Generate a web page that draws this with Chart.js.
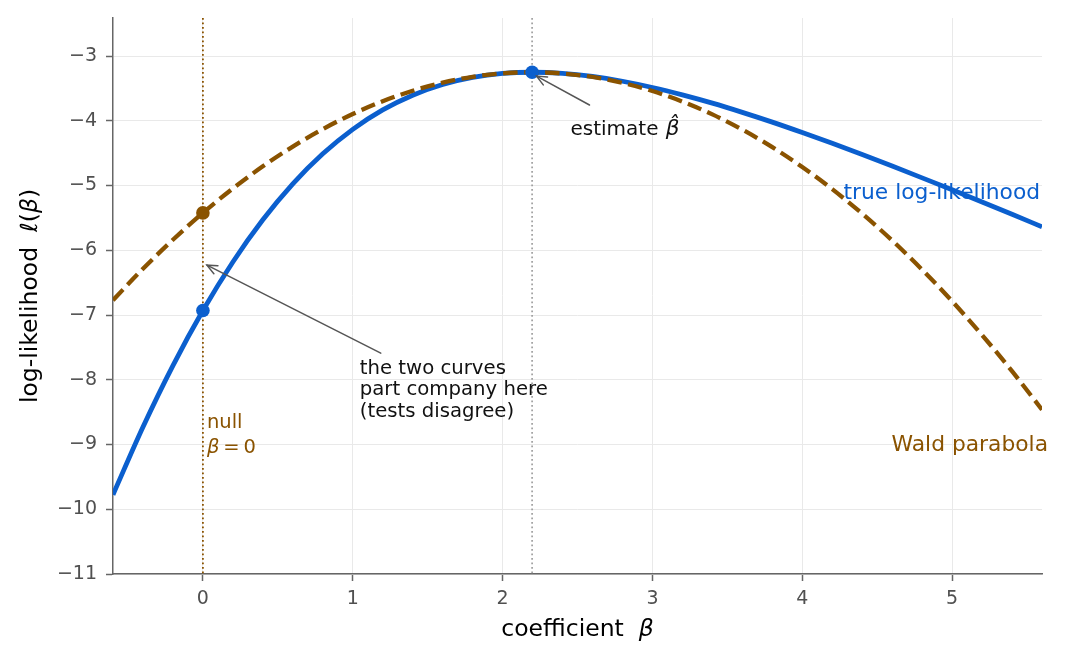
<!DOCTYPE html>
<html>
<head>
<meta charset="utf-8">
<script src="https://cdn.jsdelivr.net/npm/chart.js@4.4.1/dist/chart.umd.min.js"></script>
<style>
  html, body { margin: 0; padding: 0; background: #ffffff; }
  #wrap { width: 1068px; height: 663px; }
</style>
</head>
<body>
<div id="wrap"><canvas id="c" width="1068" height="663"></canvas></div>
<script>
// ---- data ----
const betaGrid = [-0.6,-0.4,-0.2,0,0.2,0.4,0.6,0.8,1.0,1.2,1.4,1.6,1.8,2.0,2.2,2.4,2.6,2.8,3.0,3.2,3.4,3.6,3.8,4.0,4.2,4.4,4.6,4.8,5.0,5.2,5.4,5.6];
const trueLL = [-9.775,-8.730,-7.781,-6.931,-6.181,-5.530,-4.975,-4.511,-4.133,-3.833,-3.605,-3.439,-3.330,-3.269,-3.251,-3.268,-3.316,-3.390,-3.486,-3.600,-3.728,-3.870,-4.021,-4.182,-4.349,-4.522,-4.700,-4.882,-5.067,-5.255,-5.445,-5.637];
const waldLL = [-6.771,-6.286,-5.837,-5.423,-5.046,-4.704,-4.399,-4.129,-3.896,-3.698,-3.537,-3.411,-3.322,-3.268,-3.251,-3.270,-3.324,-3.415,-3.541,-3.704,-3.902,-4.137,-4.407,-4.714,-5.056,-5.435,-5.849,-6.300,-6.787,-7.309,-7.868,-8.462];
const betaHat = 2.197;
const llHat = -3.251;
const nullBeta = 0;
const nullTrue = -6.931;
const nullWald = -5.423;
const xTicks = [0,1,2,3,4,5];
const yTicks = [-11,-10,-9,-8,-7,-6,-5,-4,-3];

const BLUE = '#0b5fce';
const BROWN = '#8a5300';
const FONT = "'DejaVu Sans', sans-serif";

function fmt(v){ return String(v).replace('-', '\u2212'); }

// mixed-style text drawing (normal / italic segments)
function drawSegments(ctx, segs, size, x, y, align, color){
  let total = 0;
  const widths = segs.map(s => {
    ctx.font = (s.it ? 'italic ' : '') + (s.size || size) + 'px ' + FONT;
    const w = ctx.measureText(s.t).width + (s.gap || 0); total += w; return w;
  });
  let cx = align === 'center' ? x - total/2 : (align === 'right' ? x - total : x);
  ctx.fillStyle = color; ctx.textBaseline = 'middle'; ctx.textAlign = 'left';
  segs.forEach((s,i) => {
    ctx.font = (s.it ? 'italic ' : '') + (s.size || size) + 'px ' + FONT;
    ctx.fillText(s.t, cx, y);
    cx += widths[i];
  });
  return total;
}

function arrow(ctx, x1, y1, x2, y2, color){
  ctx.save();
  ctx.strokeStyle = color; ctx.lineWidth = 1.5; ctx.lineCap = 'round';
  ctx.beginPath(); ctx.moveTo(x1,y1); ctx.lineTo(x2,y2); ctx.stroke();
  const a = Math.atan2(y2-y1, x2-x1);
  const L = 11, sp = 0.42;
  ctx.beginPath();
  ctx.moveTo(x2 - L*Math.cos(a-sp), y2 - L*Math.sin(a-sp));
  ctx.lineTo(x2, y2);
  ctx.lineTo(x2 - L*Math.cos(a+sp), y2 - L*Math.sin(a+sp));
  ctx.stroke();
  ctx.restore();
}

const decor = {
  id: 'decor',
  beforeDatasetsDraw(chart){
    const {ctx, chartArea:ca, scales:{x,y}} = chart;
    ctx.save();
    ctx.lineWidth = 1.8;
    ctx.setLineDash([1.8, 2.7]);
    ctx.strokeStyle = BROWN;
    let px = x.getPixelForValue(nullBeta);
    ctx.beginPath(); ctx.moveTo(px, ca.top); ctx.lineTo(px, ca.bottom); ctx.stroke();
    ctx.strokeStyle = '#9a9a9a';
    ctx.lineWidth = 1.6;
    px = x.getPixelForValue(betaHat);
    ctx.beginPath(); ctx.moveTo(px, ca.top); ctx.lineTo(px, ca.bottom); ctx.stroke();
    ctx.restore();
  },
  afterDatasetsDraw(chart){
    const {ctx, scales:{x,y}} = chart;
    const X = v => x.getPixelForValue(v), Y = v => y.getPixelForValue(v);
    ctx.save();
    // arrows
    arrow(ctx, X(2.58), Y(-3.757), X(2.227), Y(-3.31), '#555555');
    arrow(ctx, X(1.187), Y(-7.59), X(0.027), Y(-6.23), '#555555');
    // estimate label
    drawSegments(ctx, [{t:'estimate ', gap:1},{t:'\u03B2\u0302', it:true, size:21.5}], 20, X(2.453), Y(-4.14), 'left', '#111111');
    // two curves text
    const lines = ['the two curves', 'part company here', '(tests disagree)'];
    ctx.font = '19.7px ' + FONT; ctx.fillStyle = '#111111'; ctx.textAlign = 'left'; ctx.textBaseline = 'middle';
    lines.forEach((l,i) => ctx.fillText(l, X(1.047), Y(-8.16) + (i-1)*21.3));
    // null labels
    ctx.font = '19.5px ' + FONT; ctx.fillStyle = BROWN;
    ctx.fillText('null', X(0.027), Y(-8.67));
    drawSegments(ctx, [{t:'\u03B2', it:true},{t:'\u2009=\u20090'}], 19.5, X(0.027), Y(-9.05), 'left', BROWN);
    // series labels
    ctx.font = '21.8px ' + FONT; ctx.textBaseline = 'middle';
    ctx.fillStyle = BLUE; ctx.textAlign = 'right';
    ctx.fillText('true log-likelihood', X(5.587), Y(-5.116));
    ctx.fillStyle = BROWN;
    ctx.fillText('Wald parabola', X(5.64), Y(-9.02));
    ctx.restore();
  },
  afterDraw(chart){
    const {ctx, chartArea:ca} = chart;
    ctx.save();
    drawSegments(ctx, [{t:'coefficient  '},{t:'\u03B2', it:true}], 23.5, (ca.left+ca.right)/2, 630, 'center', '#000000');
    ctx.translate(31, (ca.top+ca.bottom)/2);
    ctx.rotate(-Math.PI/2);
    drawSegments(ctx, [{t:'log-likelihood  '},{t:'\u2113', it:true},{t:'('},{t:'\u03B2', it:true},{t:')'}], 23.5, 0, 0, 'center', '#000000');
    ctx.restore();
  }
};

const pts = (xs, ys) => xs.map((v,i) => ({x:v, y:ys[i]}));

new Chart(document.getElementById('c'), {
  type: 'line',
  data: {
    datasets: [
      {
        label: 'points',
        data: [{x:betaHat, y:llHat},{x:nullBeta, y:nullTrue},{x:nullBeta, y:nullWald}],
        showLine: false,
        pointRadius: 6.8,
        pointBackgroundColor: [BLUE, BLUE, BROWN],
        pointBorderWidth: 0,
        clip: false
      },
      {
        label: 'Wald parabola',
        data: pts(betaGrid, waldLL),
        borderColor: BROWN,
        borderWidth: 4.3,
        borderDash: [14.5, 6.5],
        borderCapStyle: 'butt',
        pointRadius: 0,
        cubicInterpolationMode: 'monotone',
        fill: false
      },
      {
        label: 'true log-likelihood',
        data: pts(betaGrid, trueLL),
        borderColor: BLUE,
        borderWidth: 4.8,
        pointRadius: 0,
        cubicInterpolationMode: 'monotone',
        fill: false
      }
    ]
  },
  options: {
    responsive: false,
    animation: false,
    devicePixelRatio: 1,
    layout: { padding: { top: 18, right: 26, left: 0, bottom: 0 } },
    plugins: { legend: { display: false }, tooltip: { enabled: false } },
    scales: {
      x: {
        type: 'linear',
        min: -0.6, max: 5.6,
        afterBuildTicks: s => { s.ticks = xTicks.map(v => ({value:v})); },
        afterFit: s => { s.height = 89; s.paddingLeft = 0; s.paddingRight = 0; },
        grid: { color: '#e9e9e9', lineWidth: 1, tickColor: '#666666', tickLength: 7, tickWidth: 1.5 },
        border: { display: true, color: '#666666', width: 1.5 },
        ticks: { font: { family: FONT, size: 19 }, color: '#505050', padding: 7, callback: v => fmt(v), maxRotation: 0 }
      },
      y: {
        type: 'linear',
        min: -11, max: -2.413,
        afterBuildTicks: s => { s.ticks = yTicks.map(v => ({value:v})); },
        afterFit: s => { s.width = 113; s.paddingTop = 0; s.paddingBottom = 0; },
        grid: { color: '#e9e9e9', lineWidth: 1, tickColor: '#666666', tickLength: 7, tickWidth: 1.5 },
        border: { display: true, color: '#666666', width: 1.5 },
        ticks: { font: { family: FONT, size: 19 }, color: '#505050', padding: 9, callback: v => fmt(v) }
      }
    }
  },
  plugins: [decor]
});
</script>
</body>
</html>
